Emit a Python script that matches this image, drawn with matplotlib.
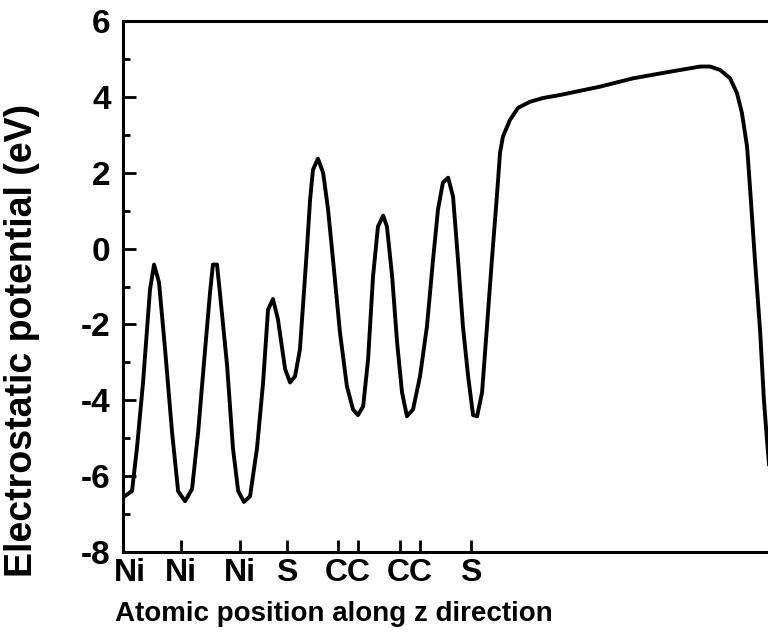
import numpy as np
import matplotlib
matplotlib.use("Agg")
import matplotlib.pyplot as plt
from matplotlib.ticker import MultipleLocator
from matplotlib.transforms import ScaledTranslation

plt.rcParams['font.family'] = ['Liberation Sans', 'DejaVu Sans']
plt.rcParams['font.weight'] = 'bold'
plt.rcParams['axes.unicode_minus'] = False

# atom positions along z (same units as z below)
atom_pos = [0.0, 2.0, 4.03, 5.66, 7.41, 8.10, 9.55, 10.24, 12.0]
atom_lbl = ['Ni', 'Ni', 'Ni', 'S', 'C', 'C', 'C', 'C', 'S']

# potential profile
z = [0.07, 0.31, 0.48, 0.69, 0.93, 1.07, 1.24, 1.45, 1.69, 1.90,
     2.14, 2.38, 2.59, 2.83, 3.00, 3.10, 3.24, 3.34, 3.59, 3.79,
     3.97, 4.17, 4.38, 4.62, 4.83, 5.00, 5.17, 5.34, 5.59, 5.76,
     5.93, 6.10, 6.34, 6.45, 6.55, 6.72, 6.90, 7.07, 7.24, 7.48,
     7.72, 7.93, 8.10, 8.28, 8.45, 8.62, 8.79, 8.97, 9.10, 9.28,
     9.45, 9.62, 9.79, 10.00, 10.24, 10.48, 10.69, 10.86, 11.03, 11.21,
     11.38, 11.55, 11.72, 11.90, 12.07, 12.21, 12.38, 12.55, 12.72, 12.90,
     13.00, 13.10, 13.34, 13.62, 14.03, 14.48, 15.07, 16.45, 17.59, 18.76,
     19.90, 20.24, 20.59, 20.93, 21.17, 21.34, 21.52, 21.62, 21.79, 21.97,
     22.10, 22.21, 22.31]
pot = [-6.52, -6.39, -5.26, -3.53, -1.08, -0.42, -0.89, -2.66, -4.84, -6.40,
       -6.66, -6.34, -4.84, -2.66, -1.16, -0.42, -0.42, -1.16, -3.10, -5.26,
       -6.39, -6.68, -6.53, -5.26, -3.53, -1.61, -1.33, -1.86, -3.18, -3.53,
       -3.37, -2.66, -0.03, 1.29, 2.08, 2.37, 2.00, 1.03, -0.29, -2.21,
       -3.63, -4.24, -4.39, -4.16, -2.92, -0.74, 0.58, 0.87, 0.58, -0.74,
       -2.47, -3.79, -4.42, -4.24, -3.37, -2.05, -0.29, 1.03, 1.74, 1.87,
       1.37, -0.29, -2.05, -3.37, -4.39, -4.42, -3.79, -2.05, -0.29, 1.47,
       2.53, 2.95, 3.39, 3.71, 3.87, 3.97, 4.05, 4.27, 4.49, 4.65,
       4.80, 4.80, 4.71, 4.49, 4.10, 3.58, 2.68, 1.60, -0.30, -2.20,
       -4.00, -5.10, -6.00]

fig = plt.figure(figsize=(7.68, 6.43), dpi=100)
# the right end of the axes runs past the edge of the picture
ax = fig.add_axes([0.1602, 0.1415, 0.8685, 0.8258])

ax.plot(z, pot, color='black', lw=2.8)

ax.set_xlim(0, 23.0)
ax.set_ylim(-8, 6)
ax.yaxis.set_major_locator(MultipleLocator(2))
ax.yaxis.set_minor_locator(MultipleLocator(1))

# single atoms get their own label, C-C pairs share one label between the ticks
major_lbl = [l if l != 'C' else '' for l in atom_lbl]
c_pos = [p for p, l in zip(atom_pos, atom_lbl) if l == 'C']
pair_pos = [(c_pos[i] + c_pos[i + 1]) / 2 for i in range(0, len(c_pos), 2)]
ax.set_xticks(atom_pos)
ax.set_xticklabels(major_lbl, fontsize=23, fontweight='bold')
ax.set_xticks(pair_pos, minor=True)
ax.set_xticklabels(['CC'] * len(pair_pos), minor=True, fontsize=23,
                   fontweight='bold')

ax.tick_params(axis='y', which='major', direction='in', length=9, width=2,
               labelsize=24, pad=9)
ax.tick_params(axis='y', which='minor', direction='in', length=5, width=2)
ax.tick_params(axis='x', which='major', direction='in', length=9, width=2,
               pad=4)
ax.tick_params(axis='x', which='minor', length=0, pad=4)
for s in ax.spines.values():
    s.set_linewidth(2.2)

fig.text(0.435, 0.045, 'Atomic position along z direction', fontsize=20,
         fontweight='bold', ha='center', va='center')
fig.text(0.029, 0.471, 'Electrostatic potential (eV)', fontsize=27,
         fontweight='bold', ha='center', va='center', rotation=90)

# first "Ni" sits a little right of the axis corner
fig.canvas.draw()
t0 = ax.xaxis.get_major_ticks()[0].label1
t0.set_transform(t0.get_transform() + ScaledTranslation(0.07, 0, fig.dpi_scale_trans))

fig.savefig('out.png', dpi=100)
